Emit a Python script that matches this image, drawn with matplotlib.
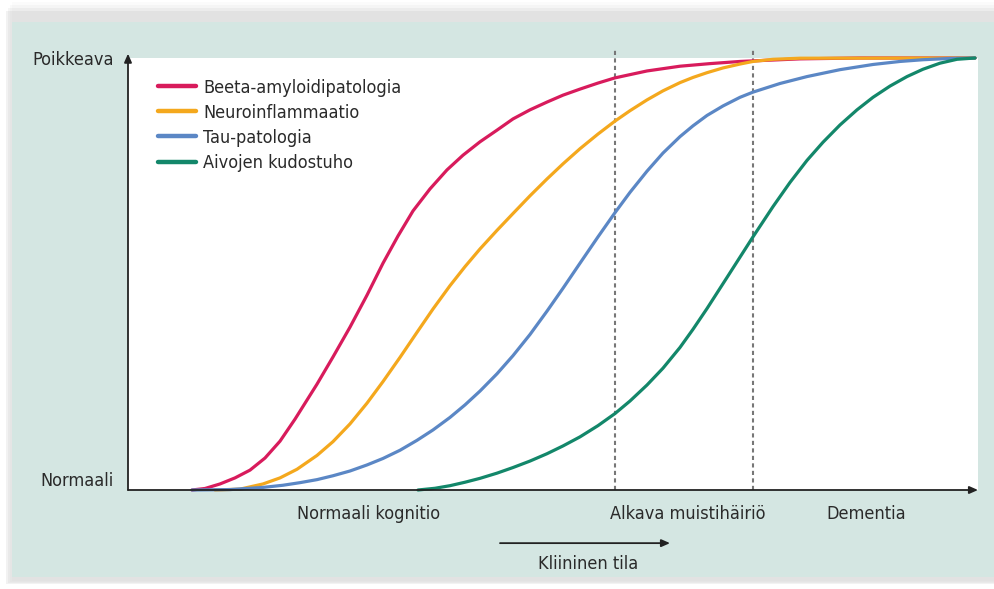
import numpy as np
import matplotlib
matplotlib.use("Agg")
import matplotlib.pyplot as plt
from matplotlib.patches import Rectangle

plt.rcParams['font.family'] = ['DejaVu Sans']
plt.rcParams['font.stretch'] = 'condensed'

# time axis in arbitrary units (0..850), abnormality 0 (normaali) .. 100 (poikkeava)
red_x = [64, 77, 92, 107, 122, 137, 152, 167, 189, 205, 222, 239, 255, 270, 285, 302, 319, 335,
         352, 369, 385, 402, 419, 435, 452, 470, 487, 519, 552, 582, 612, 672, 732, 847]
red_y = [0, 0.35, 1.4, 2.8, 4.6, 7.4, 11.3, 16.4, 24.5, 30.8, 37.7, 45.1, 52.5, 58.8, 64.6, 69.7, 74.1, 77.5,
         80.6, 83.3, 85.9, 88.0, 89.8, 91.4, 92.8, 94.2, 95.4, 97.0, 98.1, 98.7, 99.2, 99.8, 100, 100]

orange_x = [87, 112, 135, 152, 169, 189, 205, 222, 239, 255, 272, 289, 305, 322, 337, 352, 369, 385,
            402, 419, 435, 452, 470, 487, 502, 519, 535, 552, 565, 579, 595, 612, 625, 645, 672, 847]
orange_y = [0, 0.2, 1.4, 2.8, 4.8, 8.0, 11.2, 15.3, 20.1, 25.1, 30.7, 36.5, 41.9, 47.3, 51.7, 55.8, 60.1, 64.0,
            68.1, 72.0, 75.5, 79.0, 82.4, 85.4, 87.8, 90.3, 92.4, 94.3, 95.5, 96.6, 97.7, 98.6, 99.2, 99.7,
            99.95, 100]

blue_x = [64, 102, 135, 155, 172, 189, 205, 222, 239, 255, 272, 289, 305, 322, 337, 352, 369, 385, 402,
          419, 435, 452, 470, 487, 502, 519, 535, 552, 565, 579, 595, 612, 625, 652, 679, 712, 745, 772,
          795, 822, 847]
blue_y = [0, 0.1, 0.6, 1.1, 1.7, 2.4, 3.3, 4.4, 5.8, 7.3, 9.2, 11.5, 13.9, 16.8, 19.7, 22.9, 26.9, 31.1, 36.0,
          41.4, 46.7, 52.5, 58.6, 64.2, 68.9, 73.8, 78.0, 81.8, 84.3, 86.7, 88.9, 90.9, 92.1, 94.1, 95.7, 97.3,
          98.5, 99.2, 99.6, 99.9, 100]

green_x = [290, 307, 322, 337, 352, 369, 385, 402, 419, 435, 452, 470, 487, 502, 519, 535, 552, 565, 579,
           599, 612, 625, 645, 662, 679, 695, 712, 729, 745, 762, 779, 795, 812, 829, 847]
green_y = [0, 0.4, 1.0, 1.8, 2.7, 3.9, 5.2, 6.7, 8.4, 10.2, 12.3, 14.9, 17.7, 20.6, 24.3, 28.2, 33.0, 37.2, 42.0,
           49.2, 53.9, 58.6, 65.6, 71.2, 76.3, 80.5, 84.5, 88.0, 90.9, 93.5, 95.7, 97.4, 98.8, 99.7, 100]

series = [
    ("Beeta-amyloidipatologia", red_x, red_y, "#d81b5c"),
    ("Neuroinflammaatio", orange_x, orange_y, "#f4a81d"),
    ("Tau-patologia", blue_x, blue_y, "#5b87c5"),
    ("Aivojen kudostuho", green_x, green_y, "#13876a"),
]

stage_pos = [241, 560, 738]
stage_labels = ["Normaali kognitio", "Alkava muistihäiriö", "Dementia"]
stage_lines = [487, 625]

W, H = 995, 589
fig = plt.figure(figsize=(W / 100, H / 100), dpi=100)
fig.patch.set_facecolor("white")

# soft shadow + teal panel
for i, a in enumerate([0.04, 0.06, 0.09, 0.12]):
    fig.patches.append(Rectangle(((12 - 2 * i) / W, (H - 581 - i) / H), (995 - 12 + 4 * i) / W,
                                 (581 - 10 + 2 * (4 - i)) / H,
                                 transform=fig.transFigure, facecolor="#9a9a9a", alpha=a,
                                 edgecolor="none", zorder=-3))
fig.patches.append(Rectangle((12 / W, (H - 577) / H), (995 - 12) / W, (577 - 22) / H,
                             transform=fig.transFigure, facecolor="#d4e6e2", edgecolor="none", zorder=-2))

ax = fig.add_axes([128 / W, (H - 490) / H, (978 - 128) / W, (490 - 58) / H])
ax.set_facecolor("white")
ax.set_xlim(0, 850)
ax.set_ylim(0, 100)
for s in ax.spines.values():
    s.set_visible(False)

for name, xs, ys, c in series:
    ax.plot(xs, ys, color=c, lw=2.3, label=name, solid_capstyle="round",
            solid_joinstyle="round", clip_on=False, zorder=3)

for xv in stage_lines:
    ax.plot([xv, xv], [0, 102.3], color="#777777", lw=1.5, ls=(0, (2.0, 1.6)),
            clip_on=False, zorder=2)

# axes arrows
arrow = dict(arrowstyle="-|>,head_length=0.5,head_width=0.22", color="#222222", lw=1.3,
             shrinkA=0, shrinkB=0)
ax.annotate("", xy=(0, 1.01), xytext=(0, 0), xycoords="axes fraction", arrowprops=arrow, zorder=4)
ax.annotate("", xy=(1.0, 0), xytext=(0, 0), xycoords="axes fraction", arrowprops=arrow, zorder=4)

ax.set_xticks(stage_pos, stage_labels)
ax.set_yticks([0, 100], ["Normaali", "Poikkeava"])
ax.tick_params(axis="x", length=0, pad=11, labelsize=13, labelcolor="#2a2a2a")
ax.tick_params(axis="y", length=0, pad=10, labelsize=13, labelcolor="#2a2a2a")
ax.get_yticklabels()[0].set_va("bottom")

# clinical state arrow
tr = ax.get_xaxis_transform()
ax.annotate("", xy=(542, -0.123), xytext=(372, -0.123), xycoords=tr,
            arrowprops=arrow, annotation_clip=False)
ax.text(460, -0.172, "Kliininen tila", transform=tr, ha="center", va="center",
        fontsize=13, color="#2a2a2a")

leg = ax.legend(loc="upper left", bbox_to_anchor=(0.035, 0.952), frameon=False,
                fontsize=13, handlelength=2.1, handletextpad=0.4, labelspacing=0.39,
                borderpad=0, borderaxespad=0)
for h in leg.get_lines():
    h.set_linewidth(3.2)
for t in leg.get_texts():
    t.set_color("#2a2a2a")

fig.savefig("out.png", dpi=100)
